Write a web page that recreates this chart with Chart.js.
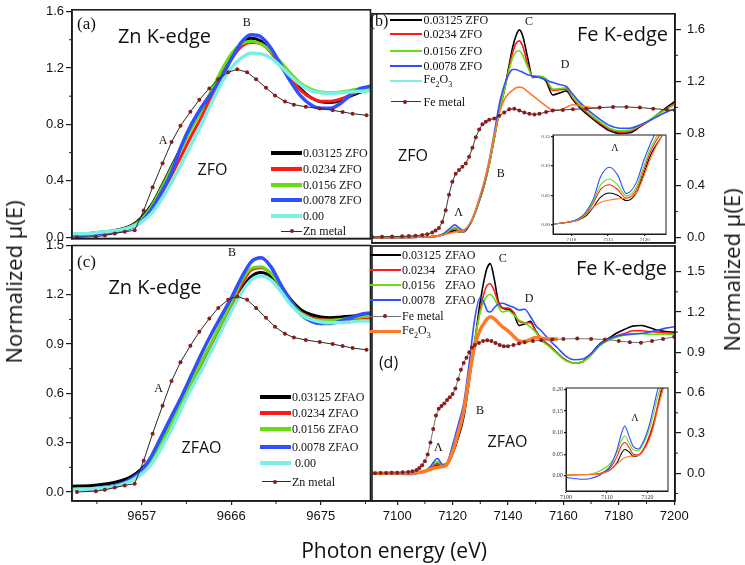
<!DOCTYPE html>
<html><head><meta charset="utf-8">
<script src="https://cdn.jsdelivr.net/npm/chart.js@4.4.1/dist/chart.umd.min.js"></script>
<style>
body{margin:0;background:#fff;}
#wrap{position:relative;width:745px;height:565px;overflow:hidden;background:#fff;}
canvas{position:absolute;left:0;top:0;}
.t{position:absolute;white-space:pre;line-height:1;color:#111;}
.c{transform:translate(-50%,-50%);}
.l{transform:translate(0,-50%);}
.serif{font-family:"Liberation Serif","Times New Roman",serif;}
.sans{font-family:"Open Sans","Noto Sans",sans-serif;}
.sw{position:absolute;}
</style></head>
<body><div id="wrap">
<canvas id="ca" width="745" height="565"></canvas>
<canvas id="cc" width="745" height="565"></canvas>
<canvas id="cb" width="745" height="565"></canvas>
<canvas id="cd" width="745" height="565"></canvas>
<canvas id="ib" width="745" height="565"></canvas>
<canvas id="id" width="745" height="565"></canvas>
</div>
<script>
// ================= DATA =================
// Zn K-edge energy grid (eV)
const znE = [9650,9652,9654,9655,9656,9657,9658,9659,9660,9661,9662,9663,9664,9665,9666,9667,9668,9669,9670,9671,9672,9673,9674,9675,9676,9677,9678,9679,9680];
// panel (a) ZFO
const zfo03125 = [0.02,0.03,0.045,0.06,0.085,0.14,0.23,0.36,0.50,0.64,0.78,0.90,1.02,1.15,1.28,1.375,1.41,1.39,1.32,1.22,1.13,1.05,0.99,0.96,0.955,0.97,1.00,1.03,1.05];
const zfo0234  = [0.02,0.025,0.04,0.05,0.07,0.12,0.20,0.31,0.44,0.58,0.72,0.85,0.99,1.13,1.26,1.35,1.38,1.37,1.31,1.21,1.12,1.04,0.99,0.965,0.965,0.98,1.01,1.04,1.055];
const zfo0156  = [0.02,0.025,0.04,0.055,0.08,0.13,0.22,0.35,0.49,0.63,0.77,0.90,1.04,1.18,1.30,1.37,1.39,1.37,1.32,1.24,1.16,1.09,1.05,1.03,1.025,1.03,1.04,1.055,1.06];
const zfo0078  = [0.01,0.02,0.035,0.05,0.07,0.115,0.20,0.32,0.46,0.65,0.80,0.92,1.02,1.13,1.26,1.38,1.435,1.42,1.34,1.22,1.10,1.00,0.94,0.915,0.915,0.95,1.01,1.055,1.07];
const zfo000   = [0.025,0.03,0.045,0.055,0.075,0.11,0.17,0.27,0.39,0.52,0.66,0.80,0.95,1.09,1.20,1.27,1.305,1.30,1.27,1.21,1.14,1.08,1.04,1.025,1.02,1.025,1.03,1.035,1.04];
// panel (c) ZFAO
const zfao03125 = [0.035,0.04,0.055,0.07,0.095,0.14,0.21,0.31,0.43,0.55,0.67,0.79,0.90,1.01,1.12,1.23,1.31,1.335,1.31,1.25,1.17,1.11,1.08,1.065,1.06,1.065,1.07,1.075,1.08];
const zfao0234  = [0.015,0.02,0.03,0.045,0.07,0.11,0.18,0.28,0.40,0.53,0.65,0.77,0.89,1.01,1.13,1.26,1.35,1.365,1.33,1.25,1.16,1.09,1.06,1.05,1.045,1.045,1.05,1.055,1.055];
const zfao0156  = [0.015,0.02,0.03,0.045,0.072,0.12,0.19,0.30,0.42,0.55,0.67,0.79,0.91,1.03,1.15,1.28,1.36,1.37,1.33,1.25,1.16,1.09,1.055,1.045,1.045,1.05,1.06,1.065,1.07];
const zfao0078  = [0.015,0.02,0.035,0.05,0.08,0.13,0.22,0.34,0.46,0.58,0.71,0.84,0.96,1.07,1.18,1.30,1.40,1.425,1.37,1.26,1.16,1.08,1.04,1.025,1.025,1.04,1.06,1.08,1.09];
const zfao000   = [0.015,0.02,0.03,0.045,0.07,0.11,0.17,0.27,0.38,0.51,0.63,0.74,0.86,0.98,1.10,1.21,1.29,1.315,1.29,1.22,1.14,1.08,1.05,1.035,1.03,1.03,1.035,1.04,1.04];
// Zn metal reference
const znMetalE = [9650.5,9652.4,9653.3,9654.3,9655.3,9656.3,9657.2,9658.1,9659.1,9660.0,9660.9,9661.9,9662.8,9663.8,9664.7,9665.7,9666.6,9667.6,9668.5,9669.5,9670.4,9671.4,9672.3,9673.5,9674.9,9676.2,9677.2,9678.2,9679.6];
const znMetalV = [0.0,0.005,0.013,0.027,0.04,0.05,0.19,0.355,0.525,0.675,0.79,0.89,0.975,1.055,1.12,1.17,1.19,1.17,1.12,1.06,1.005,0.963,0.94,0.925,0.912,0.9,0.888,0.876,0.865];

// Fe K-edge, panel (b) grid
const feB = [7090,7100,7106,7109,7111,7113,7114.7,7116,7117.5,7119,7120.5,7122,7123.5,7125,7126.5,7128,7129.5,7131,7132,7133,7134,7135,7136.5,7138,7140,7142,7144,7146,7148,7150,7152,7155,7158,7161,7164,7167,7170,7173,7176,7178,7180.5];
const bZfo03125 = [0,0.002,0.005,0.01,0.02,0.04,0.054,0.045,0.045,0.09,0.17,0.28,0.40,0.56,0.76,0.97,1.13,1.33,1.46,1.55,1.595,1.55,1.38,1.23,1.235,1.20,1.095,1.11,1.125,1.06,1.00,0.93,0.87,0.82,0.80,0.805,0.85,0.90,0.96,1.00,1.045];
const bZfo0234  = [0,0.002,0.005,0.01,0.022,0.048,0.068,0.055,0.048,0.09,0.17,0.28,0.40,0.56,0.76,0.97,1.13,1.31,1.42,1.49,1.51,1.47,1.33,1.23,1.235,1.21,1.13,1.135,1.14,1.07,1.01,0.94,0.88,0.83,0.81,0.815,0.855,0.90,0.955,0.99,1.03];
const bZfo0156  = [0,0.002,0.005,0.01,0.024,0.055,0.078,0.062,0.05,0.09,0.17,0.28,0.40,0.56,0.76,0.97,1.13,1.29,1.38,1.425,1.435,1.40,1.31,1.24,1.24,1.22,1.14,1.145,1.15,1.08,1.02,0.95,0.89,0.84,0.82,0.825,0.86,0.905,0.955,0.985,1.02];
const bZfo0078  = [0,0.002,0.005,0.01,0.026,0.065,0.098,0.075,0.055,0.095,0.18,0.29,0.42,0.59,0.80,1.02,1.17,1.26,1.29,1.29,1.28,1.27,1.25,1.24,1.23,1.21,1.19,1.175,1.16,1.10,1.04,0.97,0.91,0.86,0.84,0.84,0.865,0.90,0.94,0.965,0.99];
const bFe2O3    = [0,0.002,0.005,0.01,0.02,0.033,0.043,0.05,0.06,0.10,0.18,0.30,0.43,0.59,0.78,0.95,1.06,1.11,1.13,1.15,1.155,1.15,1.12,1.09,1.05,1.01,0.98,0.98,1.0,1.02,1.015,1.0,0.99];
const bFeMetalE = [7090,7093,7096,7099,7101,7103,7105,7106.5,7108,7109,7110,7111,7112,7113,7114,7115,7116,7117,7118,7119,7120,7121,7122,7123,7124,7125,7126.5,7128,7129.5,7131,7132.5,7134,7135.5,7137,7138.5,7140,7142,7144,7147,7150,7154,7158,7162,7166,7170,7174,7178,7180.5];
const bFeMetalV = [0.005,0.007,0.008,0.01,0.012,0.015,0.02,0.027,0.04,0.055,0.075,0.12,0.21,0.33,0.43,0.49,0.52,0.545,0.57,0.62,0.69,0.77,0.83,0.87,0.89,0.905,0.915,0.935,0.96,0.985,0.99,0.975,0.96,0.95,0.945,0.95,0.965,0.975,0.98,0.985,0.99,0.998,1.003,1.003,0.998,0.99,0.982,0.975];
// inset of (b)
const ibE = [7107.6,7109.5,7111,7112,7113,7114,7115.2,7116.3,7117.5,7118.9,7119.8,7120.7,7121.5,7122.5,7123];
const ibZfo03125 = [0.001,0.004,0.008,0.015,0.03,0.047,0.054,0.05,0.041,0.055,0.084,0.116,0.135,0.155,0.17];
const ibZfo0234  = [0.001,0.004,0.009,0.018,0.037,0.06,0.068,0.06,0.045,0.06,0.09,0.122,0.142,0.162,0.175];
const ibZfo0156  = [0.001,0.004,0.01,0.02,0.04,0.068,0.078,0.068,0.049,0.065,0.097,0.128,0.148,0.168,0.18];
const ibZfo0078  = [0.001,0.004,0.01,0.022,0.044,0.082,0.098,0.085,0.053,0.073,0.107,0.136,0.158,0.18,0.19];
const ibFe2O3    = [0.001,0.004,0.008,0.017,0.03,0.038,0.042,0.044,0.046,0.055,0.08,0.11,0.132,0.155,0.17];

// Fe K-edge, panel (d) grid
const feD = [7090,7100,7105,7108,7110,7112,7114.5,7116.5,7118,7120,7122,7124,7126,7128,7130,7131.5,7132.5,7133.6,7135,7136.5,7138,7140,7142,7144,7146,7148,7150,7152,7155,7158,7161,7164,7167,7170,7173,7176,7179,7182,7185,7188,7191,7194,7197,7200];
const dZfao03125 = [0,0.002,0.003,0.008,0.015,0.035,0.062,0.048,0.06,0.14,0.26,0.41,0.68,0.98,1.28,1.45,1.53,1.56,1.45,1.28,1.23,1.22,1.19,1.10,1.11,1.13,1.06,1.00,0.95,0.89,0.84,0.82,0.83,0.89,0.96,1.00,1.04,1.07,1.095,1.10,1.085,1.065,1.055,1.05];
const dZfao0234  = [0,0.002,0.003,0.008,0.016,0.04,0.075,0.055,0.065,0.15,0.28,0.44,0.70,0.98,1.22,1.35,1.40,1.41,1.36,1.27,1.23,1.23,1.20,1.13,1.12,1.12,1.06,1.00,0.95,0.89,0.84,0.82,0.83,0.88,0.95,0.99,1.02,1.04,1.06,1.06,1.055,1.05,1.045,1.04];
const dZfao0156  = [0,0.001,0.003,0.01,0.02,0.045,0.087,0.062,0.07,0.16,0.30,0.46,0.72,0.99,1.20,1.29,1.32,1.33,1.30,1.24,1.20,1.21,1.18,1.14,1.12,1.09,1.05,0.99,0.94,0.885,0.835,0.82,0.83,0.88,0.945,0.985,1.01,1.03,1.04,1.04,1.035,1.035,1.035,1.035];
const dZfao0078  = [0,-0.006,-0.008,0.0,0.015,0.05,0.11,0.065,0.08,0.21,0.36,0.52,0.82,1.15,1.31,1.26,1.21,1.20,1.23,1.26,1.265,1.25,1.235,1.215,1.22,1.17,1.10,1.06,0.99,0.93,0.87,0.845,0.85,0.89,0.955,0.995,1.02,1.03,1.035,1.04,1.05,1.065,1.08,1.09];
const dFe2O3     = [0,0.002,0.003,0.008,0.015,0.03,0.045,0.05,0.07,0.16,0.30,0.46,0.72,0.95,1.07,1.12,1.15,1.165,1.15,1.12,1.09,1.06,1.02,0.985,0.98,0.995,1.01,1.005,1.0,1.0];
const dFeMetalE = [7090,7092,7094,7096,7098,7100,7102,7104,7105.5,7107,7108,7109,7110,7111,7112,7113,7114,7115,7116,7117,7118,7119,7120,7121,7122,7123,7124,7125,7126,7127,7128,7129.5,7131,7132.5,7134,7135.5,7137,7138.5,7140,7142,7144,7146,7149,7152,7156,7160,7165,7170,7175,7180,7184,7188,7192,7196,7200];
const dFeMetalV = [0,0,0.002,0.003,0.004,0.005,0.007,0.01,0.015,0.025,0.04,0.06,0.09,0.14,0.23,0.33,0.43,0.48,0.50,0.52,0.545,0.565,0.59,0.63,0.70,0.77,0.82,0.86,0.90,0.935,0.955,0.97,0.985,0.99,0.985,0.97,0.955,0.945,0.945,0.955,0.965,0.975,0.985,0.99,0.995,1.0,1.002,1.0,0.995,0.985,0.975,0.972,0.985,1.0,1.015];
// inset of (d)
const idE = [7100,7102,7104,7106,7108,7109.5,7111,7112.5,7113.5,7114.4,7115.5,7116.5,7117.7,7119,7120.5,7121.5,7122.5,7123.5,7124.5];
const idZfao03125 = [0.003,0.003,0.003,0.003,0.004,0.008,0.015,0.03,0.05,0.061,0.055,0.045,0.047,0.06,0.09,0.12,0.16,0.2,0.23];
const idZfao0234  = [0.003,0.003,0.003,0.003,0.005,0.01,0.02,0.045,0.068,0.077,0.065,0.05,0.048,0.062,0.095,0.125,0.165,0.205,0.23];
const idZfao0156  = [0.001,0.001,0.002,0.004,0.01,0.018,0.03,0.055,0.08,0.092,0.075,0.06,0.058,0.075,0.11,0.145,0.185,0.21,0.23];
const idZfao0078  = [-0.004,-0.006,-0.008,-0.006,0.0,0.01,0.025,0.06,0.095,0.115,0.09,0.068,0.062,0.08,0.12,0.16,0.2,0.22,0.24];
const idFe2O3     = [0.003,0.003,0.003,0.003,0.004,0.008,0.015,0.028,0.036,0.042,0.045,0.046,0.047,0.058,0.085,0.115,0.155,0.19,0.22];

// tick values
const ticksZnA_y = [0,0.4,0.8,1.2,1.6], minorZnA_y = [0.2,0.6,1.0,1.4];
const ticksZnC_y = [0,0.3,0.6,0.9,1.2,1.5], minorZnC_y = [0.15,0.45,0.75,1.05,1.35];
const ticksZn_x = [9657,9666,9675], minorZn_x = [9652.5,9661.5,9670.5,9679.5];
const ticksFeB_y = [0,0.4,0.8,1.2,1.6], minorFeB_y = [0.2,0.6,1.0,1.4];
const ticksFeD_y = [0,0.3,0.6,0.9,1.2,1.5], minorFeD_y = [-0.15,0.15,0.45,0.75,1.05,1.35];
const ticksFe_x = [7100,7120,7140,7160,7180,7200], minorFe_x = [7110,7130,7150,7170,7190];
const ticksIB_x = [7110,7115,7120], ticksIB_y = [0,0.05,0.10,0.15];
const ticksID_x = [7100,7110,7120], ticksID_y = [0,0.05,0.10,0.15,0.20];

// series colours
const cBlack='#000000', cRed='#ff1a1a', cGreen='#66dd11', cBlue='#3050ff', cCyan='#7af0e2', cOrange='#ff7a26', cMetalDot='#8b1c1c';

// ================= DRAWING =================
const W=745,H=565, frameCol='#1c1c1c';
const tickFontMain={family:'"Liberation Sans", Arial, sans-serif', size:13};

const deco = {
  id:'deco',
  beforeDraw(chart,args,o){
    if(o.fill){const a=chart.chartArea,c=chart.ctx;c.save();c.fillStyle='#fff';c.fillRect(a.left,a.top,a.right-a.left,a.bottom-a.top);c.restore();}
  },
  afterDraw(chart,args,o){
    const c=chart.ctx,a=chart.chartArea;
    c.save(); c.strokeStyle=o.color||frameCol; c.lineWidth=1;
    const L=o.minorLen||3;
    (o.xMinor||[]).forEach(v=>{const p=chart.scales.x.getPixelForValue(v); if(p<a.left-0.5||p>a.right+0.5)return; c.beginPath();c.moveTo(p,a.bottom);c.lineTo(p,a.bottom+L);c.stroke();});
    (o.yMinor||[]).forEach(v=>{const p=chart.scales.y.getPixelForValue(v); if(p<a.top-0.5||p>a.bottom+0.5)return; const x0=o.yRight?a.right:a.left; c.beginPath();c.moveTo(x0,p);c.lineTo(x0+(o.yRight?L:-L),p);c.stroke();});
    c.lineWidth=o.frameWidth||1.6; c.strokeStyle=o.frameColor||frameCol;
    c.strokeRect(a.left,a.top,a.right-a.left,a.bottom-a.top);
    c.restore();
  }
};

const pts=(xs,ys)=>ys.map((y,i)=>({x:xs[i],y}));
function curve(xs,ys,color,w){return {data:pts(xs,ys),borderColor:color,backgroundColor:color,borderWidth:w,pointRadius:0,cubicInterpolationMode:'monotone',fill:false};}
function metal(xs,ys,lineColor){return {data:pts(xs,ys),borderColor:lineColor,backgroundColor:cMetalDot,borderWidth:1,pointRadius:2,pointStyle:'circle',pointBackgroundColor:cMetalDot,pointBorderColor:cMetalDot,pointBorderWidth:0,tension:0,fill:false};}

function panel(id,s){
  const Wy=s.wy||60,Hx=s.hx||40;
  const [l,t,r,b]=s.area; const right=!!s.y.right;
  const padding={left:right?l:l-Wy,right:right?W-r-Wy:W-r,top:t,bottom:H-b-Hx};
  const font=s.font||tickFontMain;
  const axisTicks=(ax)=>({display:ax.labels!==false,font,color:s.tickColor||'#111',padding:ax.pad??3,autoSkip:false,maxRotation:0,minRotation:0,callback:(v)=>ax.fmt?ax.fmt(v):String(v)});
  return new Chart(document.getElementById(id),{
    type:'line',
    data:{datasets:s.sets},
    options:{
      responsive:false,animation:false,devicePixelRatio:1,
      layout:{padding},
      plugins:{legend:{display:false},tooltip:{enabled:false},
        deco:{xMinor:s.x.minor,yMinor:s.y.minor,yRight:right,fill:s.fill,frameWidth:s.frameWidth,minorLen:s.minorLen,frameColor:s.frameColor}},
      scales:{
        x:{type:'linear',position:'bottom',min:s.x.min,max:s.x.max,
          afterFit:(sc)=>{sc.height=Hx;},
          afterBuildTicks:(sc)=>{sc.ticks=(s.x.major||[]).map(v=>({value:v}));},
          ticks:axisTicks(s.x),
          grid:{drawOnChartArea:false,drawTicks:(s.x.major||[]).length>0,tickLength:s.x.tickLen??5,color:s.frameColor||frameCol,lineWidth:1.2},
          border:{display:true,color:s.frameColor||frameCol,width:s.frameWidth||1.6}},
        y:{type:'linear',position:right?'right':'left',min:s.y.min,max:s.y.max,
          afterFit:(sc)=>{sc.width=Wy;},
          afterBuildTicks:(sc)=>{sc.ticks=(s.y.major||[]).map(v=>({value:v}));},
          ticks:axisTicks(s.y),
          grid:{drawOnChartArea:false,drawTicks:true,tickLength:s.y.tickLen??6,color:s.frameColor||frameCol,lineWidth:1.2},
          border:{display:true,color:s.frameColor||frameCol,width:s.frameWidth||1.6}}
      }
    },
    plugins:[deco]
  });
}
const f1=v=>v.toFixed(1), f2=v=>v.toFixed(2);

// (a) Zn K-edge ZFO
panel('ca',{area:[72,5,370.5,238.5],
  x:{min:9650,max:9680,major:[],labels:false},
  y:{min:-0.008,max:1.612,major:ticksZnA_y,minor:minorZnA_y,fmt:f1,pad:2},
  sets:[metal(znMetalE,znMetalV,'#2a2a2a'),
    curve(znE,zfo000,cCyan,3.5),curve(znE,zfo0078,cBlue,3.5),curve(znE,zfo0156,cGreen,3),
    curve(znE,zfo0234,cRed,3),curve(znE,zfo03125,cBlack,3)]});
// (c) Zn K-edge ZFAO
panel('cc',{area:[72,245.5,370.5,501],
  x:{min:9650,max:9680,major:ticksZn_x,minor:minorZn_x,pad:4,tickLen:4},
  y:{min:-0.055,max:1.5,major:ticksZnC_y,minor:minorZnC_y,fmt:f1,pad:2},
  sets:[metal(znMetalE,znMetalV,'#2a2a2a'),
    curve(znE,zfao000,cCyan,3.5),curve(znE,zfao0078,cBlue,3.5),curve(znE,zfao0156,cGreen,3),
    curve(znE,zfao0234,cRed,3),curve(znE,zfao03125,cBlack,3)]});
// (b) Fe K-edge ZFO
panel('cb',{area:[372,5,675,243],
  x:{min:7090,max:7180.5,major:[],labels:false},
  y:{right:true,min:-0.041,max:1.718,major:ticksFeB_y,minor:minorFeB_y,fmt:f1,pad:6},
  sets:[metal(bFeMetalE,bFeMetalV,'#3a3a3a'),
    curve(feB,bFe2O3,cOrange,1.6),
    curve(feB,bZfo0078,cBlue,1.6),curve(feB,bZfo0156,cGreen,1.6),
    curve(feB,bZfo0234,cRed,1.6),curve(feB,bZfo03125,cBlack,1.6)]});
// (d) Fe K-edge ZFAO
panel('cd',{area:[372,246,675,501],
  x:{min:7090.9,max:7200.3,major:ticksFe_x,minor:minorFe_x,pad:4,tickLen:4},
  y:{right:true,min:-0.206,max:1.691,major:ticksFeD_y,minor:minorFeD_y,fmt:f1,pad:6},
  sets:[metal(dFeMetalE,dFeMetalV,'#777777'),
    curve(feD,dFe2O3,cOrange,3.5),
    curve(feD,dZfao0078,cBlue,1.6),curve(feD,dZfao0156,cGreen,1.6),
    curve(feD,dZfao0234,cRed,1.6),curve(feD,dZfao03125,cBlack,1.6)]});
// inset (b)
const insetFont={family:'"Liberation Serif","Times New Roman",serif',size:5};
panel('ib',{area:[553,135,666,234],wy:14,hx:10,font:insetFont,fill:true,frameWidth:1,minorLen:0,tickColor:'#333',
  x:{min:7107.5,max:7122.9,major:ticksIB_x,pad:1,tickLen:2},
  y:{min:-0.016,max:0.153,major:ticksIB_y,fmt:f2,pad:1,tickLen:2},
  sets:[curve(ibE,ibFe2O3,cOrange,1.1),curve(ibE,ibZfo0078,cBlue,1.1),curve(ibE,ibZfo0156,cGreen,1.1),
    curve(ibE,ibZfo0234,cRed,1.1),curve(ibE,ibZfo03125,cBlack,1.1)]});
// inset (d)
const insetFont2={family:'"Liberation Serif","Times New Roman",serif',size:6};
panel('id',{area:[566,388,668,491],wy:16,hx:12,font:insetFont2,fill:true,frameWidth:1,minorLen:0,tickColor:'#333',
  x:{min:7100,max:7125,major:ticksID_x,pad:1,tickLen:2},
  y:{min:-0.035,max:0.203,major:ticksID_y,fmt:f2,pad:1,tickLen:2},
  sets:[curve(idE,idFe2O3,cOrange,1.1),curve(idE,idZfao0078,cBlue,1.1),curve(idE,idZfao0156,cGreen,1.1),
    curve(idE,idZfao0234,cRed,1.1),curve(idE,idZfao03125,cBlack,1.1)]});

// ================= TEXT & LEGENDS =================
const wrap=document.getElementById('wrap');
function txt(html,x,y,cls,size,extra){const d=document.createElement('div');d.className='t '+cls;d.style.left=x+'px';d.style.top=y+'px';d.style.fontSize=size+'px';d.innerHTML=html;if(extra)Object.assign(d.style,extra);wrap.appendChild(d);return d;}
function sw(x,y,w,h,color){const d=document.createElement('div');d.className='sw';Object.assign(d.style,{left:x+'px',top:(y-h/2)+'px',width:w+'px',height:h+'px',background:color});wrap.appendChild(d);}
function dot(x,y,r){const d=document.createElement('div');d.className='sw';Object.assign(d.style,{left:(x-r)+'px',top:(y-r)+'px',width:2*r+'px',height:2*r+'px',background:cMetalDot,borderRadius:'50%'});wrap.appendChild(d);}

const notes=[
 ['(a)',86.5,23,'serif c',17],['Zn K-edge',164.5,36,'sans c',20],['B',246.7,22,'serif c',12],['A',163,140,'serif c',12],['ZFO',212.5,169,'sans c',16],
 ['(c)',86.5,261,'serif c',17],['Zn K-edge',155,287,'sans c',20],['B',232,252,'serif c',12],['A',158.7,388,'serif c',12],['ZFAO',201.5,447,'sans c',16],
 ['(b)',379,21,'serif c',16],['C',529,21,'serif c',12],['Fe K-edge',622.5,34,'sans c',20],['D',565,64,'serif c',12],['ZFO',413,155,'sans c',16],
 ['B',500.7,172.7,'serif c',12],['Λ',458.7,211.7,'serif c',12],['Λ',615,148,'serif c',10],
 ['C',502.7,258.3,'serif c',12],['Fe K-edge',621.5,268,'sans c',20],['D',529,297.7,'serif c',12],['(d)',388.5,362,'sans c',16],
 ['B',480,410,'serif c',12],['Λ',438.3,446.7,'serif c',12],['ZFAO',507.5,441,'sans c',16],['Λ',635,418.3,'serif c',10]
];
notes.forEach(n=>txt(n[0],n[1],n[2],n[3],n[4]));

// axis titles
txt('Normalized μ(E)',13,282,'sans',22,{transform:'translate(-50%,-50%) rotate(-90deg)'});
txt('Normalized μ(E)',731,270,'sans',22,{transform:'translate(-50%,-50%) rotate(-90deg)'});
txt('Photon energy (eV)',394,550,'sans c',21);

// legends
const LF=12;
const legA={labels:['0.03125 ZFO','0.0234 ZFO','0.0156 ZFO','0.0078 ZFO','0.00','Zn metal'],colors:[cBlack,cRed,cGreen,cBlue,cCyan,null],ys:[153.3,169.3,185,200,216,231]};
legA.labels.forEach((lb,i)=>{const y=legA.ys[i]; if(legA.colors[i]){sw(271,y,31,4,legA.colors[i]);} else {sw(281,y,21,1,'#2a2a2a');dot(291.7,y,2);} txt(lb,303,y,'serif l',LF);});
const legC={labels:['0.03125 ZFAO','0.0234 ZFAO','0.0156 ZFAO','0.0078 ZFAO',' 0.00','Zn metal'],colors:[cBlack,cRed,cGreen,cBlue,cCyan,null],ys:[396.7,413.3,429.3,446.7,463.3,481.7]};
legC.labels.forEach((lb,i)=>{const y=legC.ys[i]; if(legC.colors[i]){sw(260,y,31,4,legC.colors[i]);} else {sw(262,y,29,1,'#2a2a2a');dot(275,y,2);} txt(lb,292,y,'serif l',LF);});
const sub='<sub style="font-size:8px">';
const legB={labels:['0.03125 ZFO','0.0234 ZFO','0.0156 ZFO','0.0078 ZFO','Fe'+sub+'2</sub>O'+sub+'3</sub>','Fe metal'],colors:[cBlack,cRed,cGreen,cBlue,cCyan,null],ys:[20,34.3,50.7,66,81,101.7]};
legB.labels.forEach((lb,i)=>{const y=legB.ys[i]; if(legB.colors[i]){sw(390,y,32,i==4?2.5:2,legB.colors[i]);} else {sw(391,y,30,1,'#3a3a3a');dot(405,y,2);} txt(lb,423.5,y,'serif l',LF);});
const legD={nums:['0.03125','0.0234','0.0156','0.0078'],ys:[255,270,285,300,316,331.7],colors:[cBlack,cRed,cGreen,cBlue]};
legD.nums.forEach((n,i)=>{const y=legD.ys[i]; sw(370,y,31,2,legD.colors[i]); txt(n,402,y,'serif l',LF); txt('ZFAO',445,y,'serif l',LF);});
sw(370,legD.ys[4],31,1,'#777'); dot(385,legD.ys[4],2); txt('Fe metal',402,legD.ys[4],'serif l',LF);
sw(370,legD.ys[5],31,3.5,cOrange); txt('Fe'+sub+'2</sub>O'+sub+'3</sub>',402,legD.ys[5],'serif l',LF);
</script>
</body></html>
